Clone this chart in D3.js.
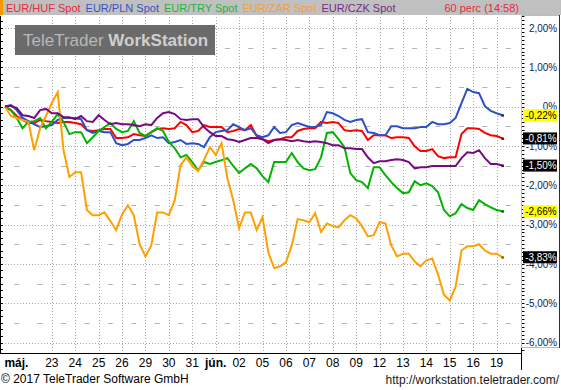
<!DOCTYPE html>
<html>
<head>
<meta charset="utf-8">
<script src="https://cdnjs.cloudflare.com/ajax/libs/d3/7.8.5/d3.min.js"></script>
<style>
  body { margin: 0; background: #fff; }
  svg { display: block; }
  text { font-family: "Liberation Sans", Arial, sans-serif; }
</style>
</head>
<body>
<div id="chart"></div>
<script>
const seriesNames = ["EUR/HUF Spot", "EUR/PLN Spot", "EUR/TRY Spot", "EUR/ZAR Spot", "EUR/CZK Spot"];

// % change, 4 samples per trading day
const hufValues = [
  0, -0.09, -0.24, -0.34, -0.42, -0.42, -0.34, -0.37, -0.39, -0.42,
  -0.39, -0.39, -0.42, -0.45, -0.60, -0.62, -0.60, -0.57, -0.57, -0.80,
  -0.80, -0.78, -0.70, -0.73, -0.75, -0.65, -0.57, -0.55, -0.57, -0.55,
  -0.39, -0.47, -0.65, -0.62, -0.47, -0.52, -0.52, -0.52, -0.65, -0.62,
  -0.57, -0.60, -0.47, -0.75, -0.83, -0.88, -0.85, -0.83, -0.78, -0.78,
  -0.62, -0.57, -0.55, -0.55, -0.39, -0.42, -0.39, -0.42, -0.60, -0.62,
  -0.60, -0.62, -0.85, -0.73, -0.73, -0.73, -0.80, -0.78, -0.78, -0.80,
  -1.01, -1.13, -1.13, -1.08, -1.26, -1.31, -1.29, -1.29, -0.70, -0.55,
  -0.55, -0.57, -0.67, -0.73, -0.75, -0.81
];
const plnValues = [
  0, 0.04, -0.09, -0.29, -0.37, -0.45, -0.52, -0.50, -0.47, -0.34,
  -0.29, -0.29, -0.29, -0.32, -0.60, -0.67, -0.62, -0.65, -0.65, -0.93,
  -0.98, -0.95, -0.85, -0.85, -0.80, -0.73, -0.80, -0.78, -0.93, -0.90,
  -0.85, -0.95, -0.93, -0.95, -1.03, -0.78, -0.65, -0.62, -0.60, -0.45,
  -0.52, -0.60, -0.55, -0.73, -0.78, -0.73, -0.52, -0.67, -0.65, -0.47,
  -0.42, -0.47, -0.52, -0.52, -0.47, -0.14, -0.17, -0.24, -0.34, -0.39,
  -0.34, -0.32, -0.65, -0.67, -0.73, -0.73, -0.50, -0.50, -0.55, -0.55,
  -0.55, -0.52, -0.52, -0.39, -0.45, -0.45, -0.42, -0.29, 0.09, 0.45,
  0.37, 0.34, 0.01, -0.11, -0.17, -0.22
];
const tryValues = [
  0, -0.09, -0.29, -0.55, -0.39, -0.37, -0.29, -0.55, -0.39, -0.19,
  -0.39, -0.70, -0.65, -0.65, -0.93, -0.78, -0.62, -0.52, -0.42, -0.57,
  -0.65, -0.62, -0.37, -0.67, -0.75, -0.65, -0.55, -0.62, -0.90, -1.06,
  -1.29, -1.23, -1.41, -1.62, -1.41, -1.46, -1.41, -1.36, -1.31, -1.51,
  -1.69, -1.57, -1.46, -1.57, -1.77, -1.92, -1.41, -1.41, -1.41, -1.18,
  -1.41, -1.57, -1.62, -1.59, -1.29, -0.67, -0.65, -0.83, -1.03, -1.69,
  -1.87, -1.92, -2.07, -1.54, -1.54, -1.74, -1.92, -2.07, -2.20, -2.18,
  -1.90, -2.00, -1.95, -2.02, -2.18, -2.63, -2.79, -2.71, -2.48, -2.58,
  -2.63, -2.38, -2.48, -2.56, -2.63, -2.66
];
const zarValues = [
  0, -0.24, -0.29, -0.34, -0.39, -1.11, -0.55, -0.24, 0.09, 0.37,
  -1.11, -1.79, -1.67, -1.67, -2.63, -2.76, -2.76, -2.69, -2.91, -3.14,
  -2.74, -2.51, -2.76, -3.50, -3.81, -3.53, -2.69, -2.69, -2.76, -2.38,
  -1.49, -1.29, -1.51, -1.64, -1.36, -1.03, -1.23, -0.93, -1.82, -2.38,
  -3.09, -2.69, -2.69, -3.14, -2.81, -3.71, -4.11, -4.06, -3.96, -3.53,
  -2.86, -2.89, -2.94, -2.71, -3.19, -2.97, -3.04, -3.07, -2.89, -2.76,
  -2.84, -3.04, -3.30, -3.27, -2.94, -2.97, -3.53, -3.81, -3.74, -3.74,
  -3.94, -4.06, -3.91, -3.86, -4.27, -4.78, -4.93, -4.58, -3.66, -3.55,
  -3.55, -3.50, -3.66, -3.74, -3.74, -3.83
];
const czkValues = [
  0, 0.02, -0.04, -0.22, -0.24, -0.29, -0.09, -0.06, -0.17, -0.17,
  -0.27, -0.27, -0.32, -0.24, -0.37, -0.39, -0.22, -0.34, -0.45, -0.42,
  -0.45, -0.45, -0.47, -0.50, -0.45, -0.47, -0.29, -0.17, -0.14, -0.19,
  -0.32, -0.34, -0.32, -0.32, -0.52, -0.65, -0.75, -0.75, -0.83, -0.85,
  -0.90, -0.85, -0.80, -0.80, -0.83, -0.93, -0.85, -0.83, -0.85, -0.88,
  -0.85, -0.88, -0.90, -0.88, -0.90, -0.93, -0.98, -0.98, -1.06, -1.06,
  -1.08, -1.08, -1.29, -1.44, -1.39, -1.39, -1.36, -1.34, -1.36, -1.41,
  -1.57, -1.54, -1.54, -1.51, -1.51, -1.51, -1.51, -1.51, -1.31, -1.16,
  -1.18, -1.11, -1.31, -1.46, -1.46, -1.50
];

const dayLabels = ["máj.", "23", "24", "25", "26", "29", "30", "31", "jún.", "02",
  "05", "06", "07", "08", "09", "12", "13", "14", "15", "16", "19"];
const monthLabels = ["máj.", "jún."];
const yTickValues = [2, 1, 0, -1, -2, -3, -4, -5, -6];
const intervalText = "60 perc (14:58)";
const copyrightText = "© 2017 TeleTrader Software GmbH";
const urlText = "http://workstation.teletrader.com/";

const lineColors = ["#ff0000", "#2b50c8", "#00b400", "#ffa000", "#780a80"];
const legendColors = ["#e8283c", "#3a52c0", "#22b43a", "#f0a040", "#7a2a8a"];
const labelFills = ["#000000", "#ffff00", "#ffff00", "#000000", "#000000"];

const width = 561, height = 390;

const svg = d3.select("#chart").append("svg")
    .attr("width", width)
    .attr("height", height);

svg.append("rect").attr("width", width).attr("height", height).attr("fill", "#fff");

// day index scale: 0 = máj. 22, 20 = jún. 19
const x = d3.scaleLinear().domain([-1, 21]).range([5, 520]);
const y = d3.scaleLinear().domain([-6, 2]).range([342.6, 27.9]);

const sampleTimes = d3.range(hufValues.length).map(i => -1 + i * 0.25);
const allSeries = [hufValues, plnValues, tryValues, zarValues, czkValues];

//squeeze a text a bit, the original font is narrower than Arial
const narrow = sel => sel.each(function () {
    const w = this.getComputedTextLength();
    d3.select(this).attr("textLength", w * 0.9).attr("lengthAdjust", "spacingAndGlyphs");
});

//title bar
svg.append("rect").attr("x", 0).attr("y", 0).attr("width", width).attr("height", 15).attr("fill", "#c0c0c0");
svg.append("rect").attr("x", 0).attr("y", 0).attr("width", 3).attr("height", 15).attr("fill", "#f59a00");

let legendX = 6;
seriesNames.forEach((name, i) => {
    const t = svg.append("text")
        .attr("x", legendX)
        .attr("y", 12)
        .attr("font-size", 11)
        .attr("fill", legendColors[i])
        .text(name);
    legendX += t.node().getComputedTextLength() + 5;
});
svg.append("text")
    .attr("x", 519)
    .attr("y", 12)
    .attr("font-size", 11)
    .attr("text-anchor", "end")
    .attr("fill", "#e8283c")
    .text(intervalText);

//grid
const grid = svg.append("g");
grid.selectAll(".hgrid")
    .data(yTickValues)
    .join("line")
    .attr("x1", 5).attr("x2", 520)
    .attr("y1", d => Math.round(y(d)) + 0.5).attr("y2", d => Math.round(y(d)) + 0.5)
    .attr("stroke", "#a8a8a8")
    .attr("stroke-dasharray", "1,2");

grid.selectAll(".vgrid")
    .data(d3.range(1, dayLabels.length))
    .join("line")
    .attr("x1", d => Math.round(x(d)) + 0.5).attr("x2", d => Math.round(x(d)) + 0.5)
    .attr("y1", 17).attr("y2", 353)
    .attr("stroke", "#a8a8a8")
    .attr("stroke-dasharray", "1,2");

// short dashes on half-percent rows
const halfRows = d3.range(1.5, -6, -1);
halfRows.forEach(v => {
    grid.append("g")
        .selectAll("line")
        .data(d3.range(-0.5, 21, 1))
        .join("line")
        .attr("x1", d => x(d) - 2.5).attr("x2", d => x(d) + 2.5)
        .attr("y1", Math.round(y(v)) + 0.5).attr("y2", Math.round(y(v)) + 0.5)
        .attr("stroke", "#b4b4b4");
});

//logo
svg.append("rect").attr("x", 15).attr("y", 25).attr("width", 200).attr("height", 30).attr("fill", "#6b6b6b");
const logo = svg.append("text").attr("x", 23).attr("y", 46).attr("font-size", 17);
logo.append("tspan").attr("fill", "#b8b8b8").text("TeleTrader ");
logo.append("tspan").attr("fill", "#cfcfcf").attr("font-weight", "bold").text("WorkStation");

//lines
const clip = svg.append("clipPath").attr("id", "plotclip");
clip.append("rect").attr("x", 3).attr("y", 16).attr("width", 517).attr("height", 337);

const line = d3.line()
    .x((d, i) => x(sampleTimes[i]))
    .y(d => y(d));

const lines = svg.append("g").attr("clip-path", "url(#plotclip)");
allSeries.forEach((vals, i) => {
    lines.append("path")
        .datum(vals)
        .attr("fill", "none")
        .attr("stroke", lineColors[i])
        .attr("stroke-width", 2)
        .attr("d", line);
});
allSeries.forEach((vals, i) => {
    const last = vals.length - 1;
    lines.append("rect")
        .attr("x", x(sampleTimes[last]) - 1)
        .attr("y", y(vals[last]) - 1)
        .attr("width", 2.5).attr("height", 2.5)
        .attr("fill", d3.color(lineColors[i]).darker(1.5));
});

//left axis
svg.append("line").attr("x1", 0.5).attr("x2", 0.5).attr("y1", 16).attr("y2", 353).attr("stroke", "#000");
svg.append("g")
    .selectAll("line")
    .data(d3.range(-37, 14).map(k => k / 6))
    .join("line")
    .attr("x1", 0).attr("x2", 3)
    .attr("y1", d => Math.round(y(d)) + 0.5).attr("y2", d => Math.round(y(d)) + 0.5)
    .attr("stroke", "#000");

//bottom axis
svg.append("line").attr("x1", 0).attr("x2", 521).attr("y1", 353.5).attr("y2", 353.5).attr("stroke", "#000");
svg.append("line").attr("x1", 521.5).attr("x2", 521.5).attr("y1", 348).attr("y2", 370).attr("stroke", "#000");
svg.append("g")
    .selectAll("text")
    .data(dayLabels)
    .join("text")
    .attr("x", (d, i) => x(i))
    .attr("y", 367)
    .attr("font-size", 12)
    .attr("text-anchor", (d, i) => i === 0 ? "end" : "middle")
    .attr("font-weight", d => monthLabels.includes(d) ? "bold" : "normal")
    .attr("fill", "#000")
    .text(d => d);

//right axis panel
const fmt = d3.formatLocale({ decimal: ",", thousands: " ", grouping: [3], currency: ["", ""], minus: "-" }).format(".2f");
svg.append("g")
    .selectAll("line")
    .data(d3.range(-62, 24).map(k => k / 10))
    .join("line")
    .attr("x1", 521.5).attr("x2", 524.5)
    .attr("y1", d => Math.round(y(d)) + 0.5).attr("y2", d => Math.round(y(d)) + 0.5)
    .attr("stroke", "#000");

svg.append("g")
    .selectAll("text")
    .data(yTickValues)
    .join("text")
    .attr("x", 557)
    .attr("y", d => y(d))
    .attr("dy", "0.35em")
    .attr("font-size", 11)
    .attr("text-anchor", "end")
    .attr("fill", "#0a1a50")
    .text(d => d === 0 ? "0%" : fmt(d) + "%")
    .call(narrow);

allSeries.forEach((vals, i) => {
    const v = vals[vals.length - 1];
    const g = svg.append("g");
    g.append("rect")
        .attr("x", 523).attr("y", y(v) - 6)
        .attr("width", 34).attr("height", 12)
        .attr("fill", labelFills[i]);
    g.append("text")
        .attr("x", 556.5).attr("y", y(v))
        .attr("dy", "0.35em")
        .attr("font-size", 11)
        .attr("text-anchor", "end")
        .attr("fill", labelFills[i] === "#000000" ? "#fff" : "#000")
        .text(fmt(v) + "%")
        .call(narrow);
});

svg.append("line").attr("x1", 521.5).attr("x2", 521.5).attr("y1", 15).attr("y2", 348).attr("stroke", "#f0c020");
svg.append("line").attr("x1", 521).attr("x2", 559).attr("y1", 15.5).attr("y2", 15.5).attr("stroke", "#f0c020");
svg.append("line").attr("x1", 521).attr("x2", 559).attr("y1", 347.5).attr("y2", 347.5).attr("stroke", "#f0c020");
svg.append("line").attr("x1", 559.5).attr("x2", 559.5).attr("y1", 15).attr("y2", 348).attr("stroke", "#1a2a80");

//footer
svg.append("text").attr("x", 1).attr("y", 383).attr("font-size", 12).attr("fill", "#000").text(copyrightText);
svg.append("text").attr("x", 559).attr("y", 384).attr("font-size", 12).attr("text-anchor", "end").attr("fill", "#1a1a1a").text(urlText);
</script>
</body>
</html>
